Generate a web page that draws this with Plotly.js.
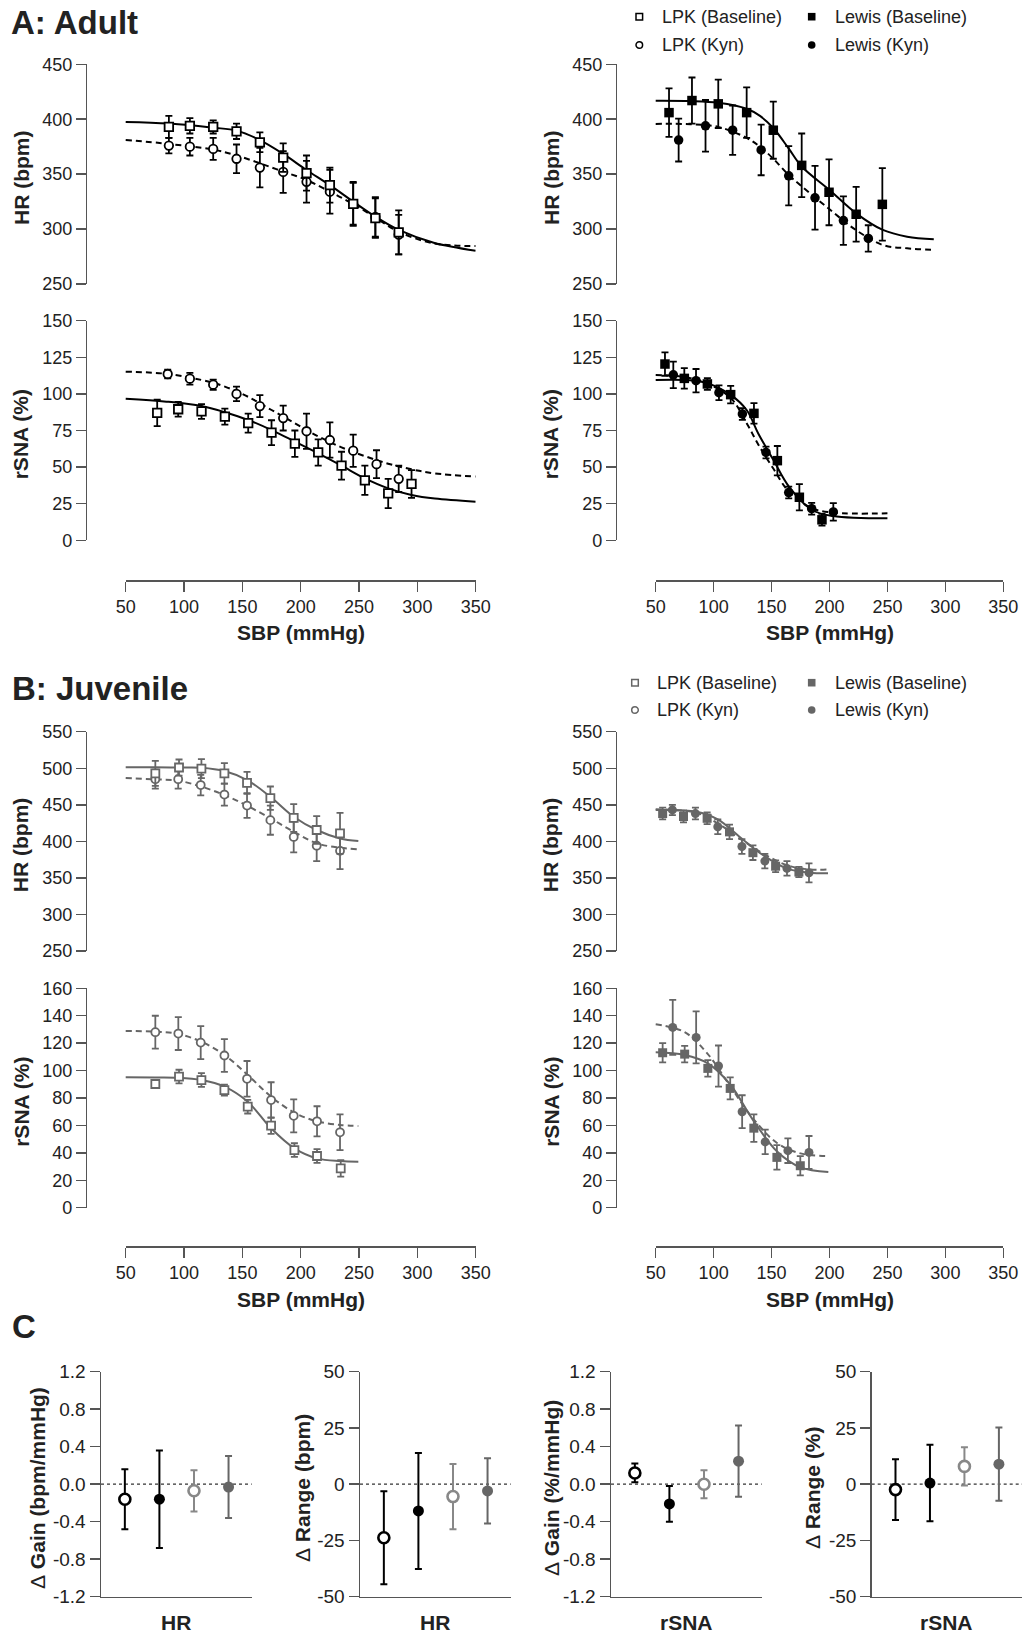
<!DOCTYPE html>
<html>
<head>
<meta charset="utf-8">
<script src="https://cdn.plot.ly/plotly-3.0.1.min.js"></script>
<style>html,body{margin:0;padding:0;background:#fff}#chart{width:1027px;height:1634px}</style>
</head>
<body>
<div id="chart"></div>
<script>
// ---------------- DATA ----------------
const sbpTicks = [50, 100, 150, 200, 250, 300, 350];
const sbpTickText = ['50', '100', '150', '200', '250', '300', '350'];
const hrTicksA = [250, 300, 350, 400, 450];
const hrTicksB = [250, 300, 350, 400, 450, 500, 550];
const rsnaTicksA = [0, 25, 50, 75, 100, 125, 150];
const rsnaTicksB = [0, 20, 40, 60, 80, 100, 120, 140, 160];
const gainTicks = [-1.2, -0.8, -0.4, 0, 0.4, 0.8, 1.2];
const gainTickText = ['-1.2', '-0.8', '-0.4', '0.0', '0.4', '0.8', '1.2'];
const rangeTicks = [-50, -25, 0, 25, 50];
const rangeTickText = ['-50', '-25', '0', '25', '50'];

// Panel A, LPK (adult) HR
const aLpkHrSbpBase = [87, 105, 125, 145, 165, 185, 205, 225, 245, 264, 284];
const aLpkHrBase = [393, 394, 393, 389, 379, 365, 351, 340, 323, 310, 297];
const aLpkHrBaseErr = [10, 7, 6, 7, 9, 13, 16, 16, 20, 18, 20];
const aLpkHrSbpKyn = [87, 105, 125, 145, 165, 185, 205, 225, 245, 264, 284];
const aLpkHrKyn = [376, 375, 373, 364, 356, 352, 343, 334, 323, 311, 295];
const aLpkHrKynErr = [7, 8, 10, 13, 18, 19, 19, 20, 19, 18, 18];
const aLpkHrFitSbp = [50, 87, 125, 145, 165, 185, 205, 225, 245, 264, 284, 314, 350];
const aLpkHrFitBase = [397.5, 396, 392.3, 389.6, 381, 368.4, 353.8, 340, 325, 311.3, 299.2, 287.6, 280.3];
const aLpkHrFitKyn = [381.1, 377.5, 372.3, 367, 359.9, 352.3, 344.7, 334, 322.8, 310.5, 297.6, 287, 284.5];

// Panel A, LPK (adult) rSNA
const aLpkRsnaSbpBase = [77, 95, 115, 135, 155, 175, 195, 215, 235, 255, 275, 295];
const aLpkRsnaBase = [87, 89.5, 88, 84.5, 80, 73.5, 66, 60, 51, 41, 32, 38.5];
const aLpkRsnaBaseErr = [9, 5, 5, 5.5, 6.5, 8.5, 9, 9, 9.5, 10, 10, 9.5];
const aLpkRsnaSbpKyn = [86, 105, 125, 145, 165, 185, 205, 225, 245, 265, 284];
const aLpkRsnaKyn = [113.6, 110.4, 106.3, 100, 91.7, 83.5, 74.5, 68.5, 61.2, 52, 42];
const aLpkRsnaKynErr = [3, 4, 3.5, 5, 7.5, 8.5, 12, 12, 11, 9.5, 9];
const aLpkRsnaFitSbp = [50, 85, 115, 135, 155, 175, 195, 215, 235, 255, 275, 295, 315, 350];
const aLpkRsnaFitBase = [96.7, 94.7, 91.7, 87.5, 82.2, 75.3, 67.4, 59.4, 51, 42.3, 35.5, 31, 28.5, 26.4];
const aLpkRsnaFitKyn = [115.2, 113.7, 109.5, 105, 98, 89, 80, 71, 63.5, 57.5, 52.3, 48.5, 45.7, 43.5];

// Panel A, Lewis (adult) HR
const aLewHrSbpBase = [61.5, 81.3, 104, 128.5, 151.5, 176, 199.6, 223, 245.6];
const aLewHrBase = [406, 417, 414, 406, 390, 358, 333.5, 313.5, 322.5];
const aLewHrBaseErr = [22, 21, 22, 23, 26, 29, 30, 25, 33];
const aLewHrSbpKyn = [69.8, 93, 116.4, 141, 164.8, 187.5, 212, 233.5];
const aLewHrKyn = [381, 394, 390, 372, 348.5, 328.5, 307.7, 291.5];
const aLewHrKynErr = [19.5, 23.5, 22.5, 23, 27, 29, 22, 12];
const aLewHrFitSbp = [50, 80, 104, 128.5, 140, 151.5, 165, 176, 200, 223, 246, 267, 290];
const aLewHrFitBase = [416.9, 416.6, 415, 409.5, 403, 392, 373, 357, 335.6, 314.3, 299.2, 293.1, 290.7];
const aLewHrFitKyn = [395.7, 395.5, 393, 383, 375, 364, 349, 339, 318, 299, 285.5, 282.5, 281];

// Panel A, Lewis (adult) rSNA
const aLewRsnaSbpBase = [58, 74.7, 94.6, 114.7, 134.8, 155, 174, 193.5];
const aLewRsnaBase = [120.4, 110.6, 106.8, 99.5, 86.7, 54.4, 29.4, 14];
const aLewRsnaBaseErr = [8, 7, 4, 6, 7, 10, 9, 4];
const aLewRsnaSbpKyn = [65.2, 84.8, 104.6, 124.8, 145.2, 164.8, 184.6, 203.3];
const aLewRsnaKyn = [113, 109, 100.8, 86.3, 60, 32.6, 21.6, 19.4];
const aLewRsnaKynErr = [9, 8, 5, 4, 4, 4, 4, 6];
const aLewRsnaFitSbp = [50, 75, 95, 115, 128.5, 138.5, 151.5, 165, 185, 203, 250];
const aLewRsnaFitBase = [109.5, 109.5, 107.2, 99.2, 89, 73, 55, 36.7, 20.7, 16.6, 15];
const aLewRsnaFitKyn = [112.9, 111.5, 107, 97, 80, 65.5, 49, 33.2, 21.9, 18.9, 18.4];

// Panel B, LPK (juvenile) HR
const bLpkHrSbpBase = [75.4, 95.7, 114.9, 134.6, 154, 174, 194, 213.7, 233.7];
const bLpkHrBase = [493, 501, 499.5, 493, 480, 459, 432, 415.5, 411];
const bLpkHrBaseErr = [17, 11, 13, 14, 15, 16, 19, 19, 28];
const bLpkHrSbpKyn = [75.4, 95, 114.3, 134.6, 154, 174, 194, 213.7, 233.7];
const bLpkHrKyn = [485, 485, 477, 464, 449, 429, 406, 394, 387];
const bLpkHrKynErr = [13, 13, 14, 15, 17, 20, 21, 21, 25];
const bLpkHrFitSbp = [50, 75, 95, 115, 134.6, 154, 174, 194, 213.7, 233.7, 249.4];
const bLpkHrFitBase = [501.2, 501.2, 501, 500.8, 496.2, 483.9, 461, 433.7, 415.5, 404, 400.5];
const bLpkHrFitKyn = [486.6, 484.8, 483, 474.8, 463.4, 448.8, 431.5, 413.2, 397.3, 391.3, 389];

// Panel B, LPK (juvenile) rSNA
const bLpkRsnaSbpBase = [75.4, 95.7, 114.9, 134.6, 154.6, 174.6, 194.6, 214, 234.3];
const bLpkRsnaBase = [90.2, 95.6, 93.1, 85.8, 73.7, 59.8, 42, 37.7, 28.7];
const bLpkRsnaBaseErr = [3, 5, 5, 4, 5, 6, 5, 5, 6];
const bLpkRsnaSbpKyn = [75.4, 95.1, 114.3, 134.6, 154, 174.6, 194, 214, 233.7];
const bLpkRsnaKyn = [128, 127, 120.4, 111, 94, 78.5, 67, 63, 55];
const bLpkRsnaKynErr = [12, 12, 12, 12, 13, 13, 12, 11, 13];
const bLpkRsnaFitSbp = [50, 75, 95, 115, 134.6, 154.6, 174.6, 194.6, 214, 234, 249.4];
const bLpkRsnaFitBase = [95.1, 95, 94.8, 93.1, 88.3, 77.3, 57.9, 43.3, 36, 34, 33.5];
const bLpkRsnaFitKyn = [128.9, 128.4, 126.7, 121, 111.4, 96.8, 81, 69.3, 63, 60.3, 59.6];

// Panel B, Lewis (juvenile) HR
const bLewHrSbpBase = [56, 74, 94.4, 113.7, 133.9, 153.5, 173.6];
const bLewHrBase = [438, 434, 431.5, 413, 384.5, 366, 358];
const bLewHrBaseErr = [8, 8, 8, 10, 10, 8, 7];
const bLewHrSbpKyn = [64.4, 84.3, 103.6, 124.4, 144.2, 163.3, 182.3];
const bLewHrKyn = [443, 438, 420, 393, 373, 363, 357];
const bLewHrKynErr = [7, 8, 10, 10, 10, 10, 13];
const bLewHrFitSbp = [50, 85, 103.6, 122.3, 142.5, 162.7, 182.3, 198.7];
const bLewHrFitBase = [442.9, 440.6, 430.1, 406.4, 381.3, 363.1, 357.2, 356.2];
const bLewHrFitKyn = [443.8, 439.2, 424.6, 404.1, 383.6, 367.6, 361.7, 361.7];

// Panel B, Lewis (juvenile) rSNA
const bLewRsnaSbpBase = [56, 75, 95, 114.3, 134.7, 154.6, 174.8];
const bLewRsnaBase = [113, 112, 101.6, 87, 58, 36.7, 30.6];
const bLewRsnaBaseErr = [7, 6, 6, 8, 10, 9, 7];
const bLewRsnaSbpKyn = [64.7, 84.9, 104.2, 124.6, 144.5, 164.1, 182.3];
const bLewRsnaKyn = [131.5, 124.2, 103.3, 70, 48, 41.6, 40.3];
const bLewRsnaKynErr = [20, 19, 15, 12, 9, 9, 12];
const bLewRsnaFitSbp = [50, 75, 95, 114, 134, 155, 175, 199];
const bLewRsnaFitBase = [113.3, 111.4, 105.3, 90.2, 63.9, 40.8, 29.4, 26];
const bLewRsnaFitKyn = [133.7, 128, 112, 89, 65, 47, 39.6, 37.7];

// Panel C: delta values (order: LPK adult, Lewis adult, LPK juvenile, Lewis juvenile)
const cGroups = ['LPK (Adult)', 'Lewis (Adult)', 'LPK (Juvenile)', 'Lewis (Juvenile)'];
const cGainHr = [-0.16, -0.16, -0.07, -0.03];
const cGainHrErr = [0.32, 0.52, 0.22, 0.33];
const cRangeHr = [-23.8, -11.9, -5.5, -3];
const cRangeHrErr = [20.7, 25.8, 14.5, 14.5];
const cGainRsna = [0.12, -0.21, 0.0, 0.245];
const cGainRsnaErr = [0.1, 0.19, 0.15, 0.38];
const cRangeRsna = [-2.4, 0.5, 7.9, 8.9];
const cRangeRsnaErr = [13.5, 17, 8.5, 16.3];

const legendLabels = ['LPK (Baseline)', 'LPK (Kyn)', 'Lewis (Baseline)', 'Lewis (Kyn)'];

// ---------------- STYLE / LAYOUT ----------------
const W = 1027, H = 1634;
const fx = p => p / W;
const fy = p => 1 - p / H;
const FONT = 'Arial, "Liberation Sans", Helvetica, sans-serif';
const AXC = '#555';
const TXT = '#222';
const BLACK = '#000';
const GRAY = '#666';
const LGRAY = '#888';

const traces = [];
const layout = {
  width: W, height: H, margin: {l: 0, r: 0, t: 0, b: 0},
  paper_bgcolor: '#fff', plot_bgcolor: 'rgba(0,0,0,0)',
  showlegend: false, font: {family: FONT, color: TXT},
  annotations: [], shapes: []
};

let axN = 0;
function yAxis(domPx, range, vals, texts, fontSize) {
  return {
    domain: [fy(domPx[1]), fy(domPx[0])], range: range, fixedrange: true,
    showline: true, linecolor: AXC, linewidth: 1.5, mirror: false,
    ticks: 'outside', ticklen: 10, tickwidth: 1.5, tickcolor: AXC,
    tickmode: 'array', tickvals: vals, ticktext: texts || vals.map(String),
    tickfont: {size: fontSize || 18, color: TXT, family: FONT},
    showgrid: false, zeroline: false
  };
}
function addPanel(xDomPx, xRange, yDomPx, yRange, yVals, yTexts, yFont) {
  axN += 1;
  const id = axN === 1 ? '' : String(axN);
  layout['xaxis' + id] = {
    domain: [fx(xDomPx[0]), fx(xDomPx[1])], range: xRange, fixedrange: true,
    visible: false, anchor: 'y' + id
  };
  layout['yaxis' + id] = Object.assign(yAxis(yDomPx, yRange, yVals, yTexts, yFont), {anchor: 'x' + id});
  return {xa: 'x' + id, ya: 'y' + id};
}
function addBottomAxis(xDomPx, linePx) {
  axN += 1;
  const id = String(axN);
  layout['xaxis' + id] = {
    domain: [fx(xDomPx[0]), fx(xDomPx[1])], range: [sbpTicks[0], sbpTicks[sbpTicks.length - 1]],
    fixedrange: true, anchor: 'y' + id,
    showline: true, linecolor: AXC, linewidth: 1.5,
    ticks: 'outside', ticklen: 10, tickwidth: 1.5, tickcolor: AXC,
    tickmode: 'array', tickvals: sbpTicks, ticktext: sbpTickText,
    tickfont: {size: 18, color: TXT, family: FONT}, showgrid: false, zeroline: false
  };
  layout['yaxis' + id] = {domain: [fy(linePx), fy(linePx - 1)], range: [0, 1], visible: false, fixedrange: true, anchor: 'x' + id};
  traces.push({type: 'scatter', mode: 'markers', x: sbpTicks, y: sbpTicks.map(() => 0),
    xaxis: 'x' + id, yaxis: 'y' + id, marker: {opacity: 0}, hoverinfo: 'skip', showlegend: false});
}
function fit(ax, x, y, color, dashed) {
  traces.push({type: 'scatter', mode: 'lines', x: x, y: y, xaxis: ax.xa, yaxis: ax.ya,
    line: {color: color, width: 2, shape: 'spline', smoothing: 1, dash: dashed ? '6px,4px' : 'solid'},
    hoverinfo: 'skip', showlegend: false});
}
function pts(ax, x, y, err, symbol, filled, color, size, name) {
  traces.push({type: 'scatter', mode: 'markers', name: name, x: x, y: y, xaxis: ax.xa, yaxis: ax.ya,
    marker: {symbol: symbol, size: size, color: filled ? color : '#fff', line: {color: color, width: filled ? 0 : 1.8}},
    error_y: {type: 'data', array: err, visible: true, color: color, thickness: 1.8, width: 3.5},
    cliponaxis: false, showlegend: false});
}
function ann(text, xPx, yPx, size, opts) {
  layout.annotations.push(Object.assign({
    text: text, xref: 'paper', yref: 'paper', x: fx(xPx), y: fy(yPx),
    xanchor: 'center', yanchor: 'middle', showarrow: false,
    font: {size: size, color: TXT, family: FONT}
  }, opts || {}));
}
function boldAnn(text, xPx, yPx, size, angle) {
  ann('<b>' + text + '</b>', xPx, yPx, size, angle ? {textangle: angle} : {});
}

// Column geometry (pixels)
const L = {yx: 87.3, x50: 125.7, x350: 475.7};
const R = {yx: 617.3, x50: 655.7, x350: 1003.3};
function xr(col) { const ppu = (col.x350 - col.x50) / 300; return [50 - (col.x50 - col.yx) / ppu, 350]; }

const rowsA = {hr: [64.3, 284], rsna: [320.7, 540.3], axis: 580, title: 632};
const rowsB = {hr: [731.7, 951], rsna: [988.3, 1207.7], axis: 1246, title: 1299};

function sbpColumn(col, rows, hrTicks, rsnaTicks, hrSet, rsnaSet, color, names) {
  const hrAx = addPanel([col.yx, col.x350], xr(col), rows.hr, [hrTicks[0], hrTicks[hrTicks.length - 1]], hrTicks);
  fit(hrAx, hrSet.fitX, hrSet.fitBase, color, false);
  fit(hrAx, hrSet.fitX, hrSet.fitKyn, color, true);
  pts(hrAx, hrSet.xk, hrSet.yk, hrSet.ek, 'circle', hrSet.filled, color, hrSet.size, names[1]);
  pts(hrAx, hrSet.xb, hrSet.yb, hrSet.eb, 'square', hrSet.filled, color, hrSet.size, names[0]);
  const rAx = addPanel([col.yx, col.x350], xr(col), rows.rsna, [rsnaTicks[0], rsnaTicks[rsnaTicks.length - 1]], rsnaTicks);
  fit(rAx, rsnaSet.fitX, rsnaSet.fitBase, color, false);
  fit(rAx, rsnaSet.fitX, rsnaSet.fitKyn, color, true);
  pts(rAx, rsnaSet.xk, rsnaSet.yk, rsnaSet.ek, 'circle', rsnaSet.filled, color, rsnaSet.size, names[1]);
  pts(rAx, rsnaSet.xb, rsnaSet.yb, rsnaSet.eb, 'square', rsnaSet.filled, color, rsnaSet.size, names[0]);
  addBottomAxis([col.x50, col.x350], rows.axis);
  const tx = col.yx - 66.5;
  boldAnn('HR (bpm)', tx, (rows.hr[0] + rows.hr[1]) / 2 + 4, 21, -90);
  boldAnn('rSNA (%)', tx, (rows.rsna[0] + rows.rsna[1]) / 2 + 4, 21, -90);
  boldAnn('SBP (mmHg)', (col.x50 + col.x350) / 2, rows.title, 21);
}

// Panel A
sbpColumn(L, rowsA, hrTicksA, rsnaTicksA,
  {fitX: aLpkHrFitSbp, fitBase: aLpkHrFitBase, fitKyn: aLpkHrFitKyn, xb: aLpkHrSbpBase, yb: aLpkHrBase, eb: aLpkHrBaseErr,
   xk: aLpkHrSbpKyn, yk: aLpkHrKyn, ek: aLpkHrKynErr, filled: false, size: 8.5},
  {fitX: aLpkRsnaFitSbp, fitBase: aLpkRsnaFitBase, fitKyn: aLpkRsnaFitKyn, xb: aLpkRsnaSbpBase, yb: aLpkRsnaBase, eb: aLpkRsnaBaseErr,
   xk: aLpkRsnaSbpKyn, yk: aLpkRsnaKyn, ek: aLpkRsnaKynErr, filled: false, size: 8.5},
  BLACK, [legendLabels[0], legendLabels[1]]);
sbpColumn(R, rowsA, hrTicksA, rsnaTicksA,
  {fitX: aLewHrFitSbp, fitBase: aLewHrFitBase, fitKyn: aLewHrFitKyn, xb: aLewHrSbpBase, yb: aLewHrBase, eb: aLewHrBaseErr,
   xk: aLewHrSbpKyn, yk: aLewHrKyn, ek: aLewHrKynErr, filled: true, size: 9.5},
  {fitX: aLewRsnaFitSbp, fitBase: aLewRsnaFitBase, fitKyn: aLewRsnaFitKyn, xb: aLewRsnaSbpBase, yb: aLewRsnaBase, eb: aLewRsnaBaseErr,
   xk: aLewRsnaSbpKyn, yk: aLewRsnaKyn, ek: aLewRsnaKynErr, filled: true, size: 9.5},
  BLACK, [legendLabels[2], legendLabels[3]]);
// Panel B
sbpColumn(L, rowsB, hrTicksB, rsnaTicksB,
  {fitX: bLpkHrFitSbp, fitBase: bLpkHrFitBase, fitKyn: bLpkHrFitKyn, xb: bLpkHrSbpBase, yb: bLpkHrBase, eb: bLpkHrBaseErr,
   xk: bLpkHrSbpKyn, yk: bLpkHrKyn, ek: bLpkHrKynErr, filled: false, size: 8},
  {fitX: bLpkRsnaFitSbp, fitBase: bLpkRsnaFitBase, fitKyn: bLpkRsnaFitKyn, xb: bLpkRsnaSbpBase, yb: bLpkRsnaBase, eb: bLpkRsnaBaseErr,
   xk: bLpkRsnaSbpKyn, yk: bLpkRsnaKyn, ek: bLpkRsnaKynErr, filled: false, size: 8},
  GRAY, [legendLabels[0], legendLabels[1]]);
sbpColumn(R, rowsB, hrTicksB, rsnaTicksB,
  {fitX: bLewHrFitSbp, fitBase: bLewHrFitBase, fitKyn: bLewHrFitKyn, xb: bLewHrSbpBase, yb: bLewHrBase, eb: bLewHrBaseErr,
   xk: bLewHrSbpKyn, yk: bLewHrKyn, ek: bLewHrKynErr, filled: true, size: 9},
  {fitX: bLewRsnaFitSbp, fitBase: bLewRsnaFitBase, fitKyn: bLewRsnaFitKyn, xb: bLewRsnaSbpBase, yb: bLewRsnaBase, eb: bLewRsnaBaseErr,
   xk: bLewRsnaSbpKyn, yk: bLewRsnaKyn, ek: bLewRsnaKynErr, filled: true, size: 9},
  GRAY, [legendLabels[2], legendLabels[3]]);

// Panel C
const cStyles = [
  {filled: false, color: BLACK}, {filled: true, color: BLACK},
  {filled: false, color: LGRAY}, {filled: true, color: GRAY}
];
const cPos = cGroups.map((g, i) => i);
const cDom = [1371.7, 1596.7];
function cPanel(x0, x1, vals, errs, range, ticks, tickText, yTitle, xTitle, titleX) {
  const ax = addPanel([x0, x1], [-0.69, 3.67], cDom, range, ticks, tickText, 19);
  const xa = layout['xaxis' + ax.xa.slice(1)];
  Object.assign(xa, {visible: true, showline: true, linecolor: AXC, linewidth: 1.5, ticks: '',
    showticklabels: false, showgrid: false, zeroline: false});
  layout.shapes.push({type: 'line', xref: ax.xa + ' domain', yref: ax.ya, x0: 0, x1: 1, y0: 0, y1: 0,
    line: {color: '#333', width: 1.2, dash: 'dot'}, layer: 'below'});
  cPos.forEach((p, i) => {
    const s = cStyles[i];
    traces.push({type: 'scatter', mode: 'markers', name: cGroups[i], x: [p], y: [vals[i]], xaxis: ax.xa, yaxis: ax.ya,
      marker: {symbol: 'circle', size: 11, color: s.filled ? s.color : '#fff', line: {color: s.color, width: s.filled ? 0 : 2.6}},
      error_y: {type: 'data', array: [errs[i]], visible: true, color: s.color, thickness: 2, width: 3.5},
      cliponaxis: false, showlegend: false});
  });
  boldAnn(yTitle, titleX, 1488, 21, -90);
  boldAnn(xTitle, (x0 + x1) / 2, 1622, 21);
}
cPanel(101, 251.7, cGainHr, cGainHrErr, [-1.2, 1.2], gainTicks, gainTickText, '<span style="font-weight:normal">Δ</span> Gain (bpm/mmHg)', 'HR', 37);
cPanel(360, 510.7, cRangeHr, cRangeHrErr, [-50, 50], rangeTicks, rangeTickText, '<span style="font-weight:normal">Δ</span> Range (bpm)', 'HR', 302);
cPanel(611, 761.7, cGainRsna, cGainRsnaErr, [-1.2, 1.2], gainTicks, gainTickText, '<span style="font-weight:normal">Δ</span> Gain (%/mmHg)', 'rSNA', 551);
cPanel(871.7, 1022, cRangeRsna, cRangeRsnaErr, [-50, 50], rangeTicks, rangeTickText, '<span style="font-weight:normal">Δ</span> Range (%)', 'rSNA', 812);

// Panel titles
ann('<b>A: Adult</b>', 9, 22.5, 33, {xanchor: 'left'});
ann('<b>B: Juvenile</b>', 10, 688.3, 33, {xanchor: 'left'});
ann('<b>C</b>', 10, 1326, 33, {xanchor: 'left'});

// Custom legends (markers only)
function legend(rowY, sym1X, txt1X, sym2X, txt2X, openColor, fillColor) {
  const items = [
    {label: legendLabels[0], sx: sym1X, tx: txt1X, y: rowY[0], type: 'rect', filled: false},
    {label: legendLabels[1], sx: sym1X, tx: txt1X, y: rowY[1], type: 'circle', filled: false},
    {label: legendLabels[2], sx: sym2X, tx: txt2X, y: rowY[0], type: 'rect', filled: true},
    {label: legendLabels[3], sx: sym2X, tx: txt2X, y: rowY[1], type: 'circle', filled: true}
  ];
  items.forEach(it => {
    const r = it.filled ? 3.8 : 3.3;
    layout.shapes.push({type: it.type, xref: 'paper', yref: 'paper',
      x0: fx(it.sx - r), x1: fx(it.sx + r), y0: fy(it.y + r), y1: fy(it.y - r),
      line: {color: it.filled ? fillColor : openColor, width: it.filled ? 0 : 1.5},
      fillcolor: it.filled ? fillColor : '#fff'});
    ann(it.label, it.tx, it.y, 18, {xanchor: 'left'});
  });
}
legend([16.7, 45], 639.3, 660, 811.7, 833, BLACK, BLACK);
legend([682.7, 710], 635, 655, 811.7, 833, GRAY, GRAY);

Plotly.newPlot('chart', traces, layout, {displayModeBar: false, staticPlot: true});
</script>
</body>
</html>
